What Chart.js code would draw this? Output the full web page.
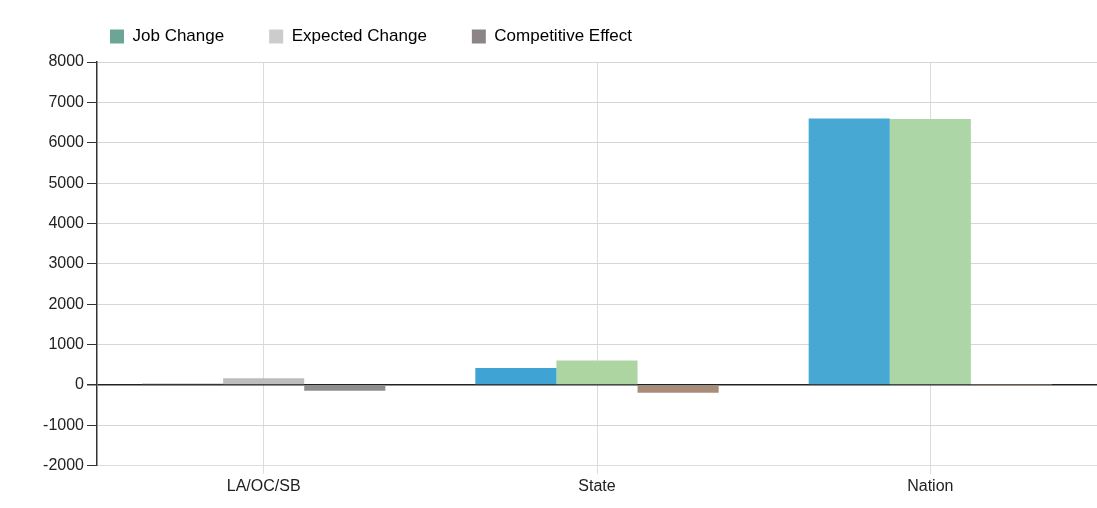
<!DOCTYPE html>
<html>
<head>
<meta charset="utf-8">
<script src="https://cdn.jsdelivr.net/npm/chart.js@4.4.1/dist/chart.umd.min.js"></script>
<style>
  body { margin: 0; background: #fff; }
  #wrap { width: 1097px; height: 508px; }
</style>
</head>
<body>
<div id="wrap"><canvas id="shift-chart" width="1097" height="508"></canvas></div>
<script>
const regions = ['LA/OC/SB', 'State', 'Nation'];
const jobChange = [30, 420, 6600];
const expectedChange = [170, 610, 6590];
const competitiveEffect = [-140, -190, 10];
const yTicks = [-2000, -1000, 0, 1000, 2000, 3000, 4000, 5000, 6000, 7000, 8000];

// each region gets its own shades, legend uses its own swatches
const jobColors = ['#6f6f6f', '#3fa3d3', '#47a8d4'];
const expectedColors = ['#bdbdbd', '#acd5a2', '#acd6a5'];
const competitiveColors = ['#8e8e8e', '#a98c78', '#a98c78'];
const legendColors = ['#6aa596', '#cccccc', '#8d8585'];

const textFont = "'Liberation Sans', Arial, sans-serif";

// push the legend row over to line up with the plot
const legendPlace = {
    id: 'legendPlace',
    afterLayout(chart) {
        chart.legend.left = 65;
        chart.legend.top = -17;
        chart.legend.bottom = 62;
    }
};

const ctx = document.getElementById('shift-chart').getContext('2d');
const myChart = new Chart(ctx, {
    type: 'bar',
    data: {
        labels: regions,
        datasets: [{
            label: 'Job Change',
            data: jobChange,
            backgroundColor: jobColors,
        }, {
            label: 'Expected Change',
            data: expectedChange,
            backgroundColor: expectedColors,
        }, {
            label: 'Competitive Effect',
            data: competitiveEffect,
            backgroundColor: competitiveColors,
        }]
    },
    options: {
        responsive: false,
        animation: false,
        barPercentage: 1,
        categoryPercentage: 0.73,
        layout: {
            padding: { left: 0, right: -4, top: 0, bottom: 9 }
        },
        scales: {
            x: {
                grid: {
                    offset: false,
                    color: '#dcdcdc',
                    tickLength: 8,
                },
                border: { color: '#dcdcdc' },
                ticks: {
                    color: '#222',
                    padding: 3,
                    font: { family: textFont, size: 16 }
                }
            },
            y: {
                min: -2000,
                max: 8000,
                afterFit(scale) {
                    scale.width = 97;
                },
                afterBuildTicks(scale) {
                    scale.ticks = yTicks.map(v => ({ value: v }));
                },
                grid: {
                    color: c => c.tick && c.tick.value === 0 ? '#222' : '#d6d6d6',
                    lineWidth: c => c.tick && c.tick.value === 0 ? 1.5 : 1,
                    tickColor: '#333',
                    tickLength: 10,
                },
                border: { color: '#333', width: 1.5 },
                ticks: {
                    color: '#222',
                    padding: 3,
                    font: { family: textFont, size: 16 },
                    callback: v => String(v)
                }
            }
        },
        plugins: {
            tooltip: { enabled: false },
            legend: {
                position: 'top',
                align: 'start',
                maxHeight: 62,
                labels: {
                    padding: 45,
                    boxWidth: 14,
                    boxHeight: 14,
                    color: '#222',
                    font: { family: textFont, size: 17 },
                    generateLabels(chart) {
                        return chart.data.datasets.map((ds, i) => ({
                            text: ds.label,
                            fillStyle: legendColors[i],
                            strokeStyle: legendColors[i],
                            lineWidth: 0,
                            datasetIndex: i
                        }));
                    }
                }
            }
        }
    },
    plugins: [legendPlace]
});
</script>
</body>
</html>
